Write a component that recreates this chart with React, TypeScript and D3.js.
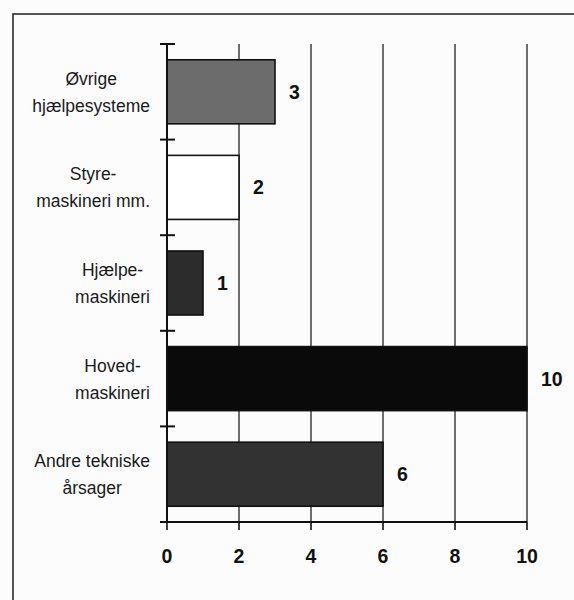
import React from "react";
import * as d3 from "d3";

const categories = [
  "Øvrige hjælpesysteme",
  "Styre- maskineri mm.",
  "Hjælpe- maskineri",
  "Hoved- maskineri",
  "Andre tekniske årsager",
];
const labelLines = [
  ["Øvrige", "hjælpesysteme"],
  ["Styre-", "maskineri mm."],
  ["Hjælpe-", "maskineri"],
  ["Hoved-", "maskineri"],
  ["Andre tekniske", "årsager"],
];
const values = [3, 2, 1, 10, 6];
const barFills = ["#6c6c6c", "#ffffff", "#2c2c2c", "#0a0a0a", "#323232"];
const xTicks = [0, 2, 4, 6, 8, 10];

const font = "'Liberation Sans', Arial, Helvetica, sans-serif";
const labelSize = 17.5;

function measure(text: string): number {
  if (typeof document === "undefined") return text.length * 9;
  const c = document.createElement("canvas").getContext("2d");
  if (!c) return text.length * 9;
  c.font = `${labelSize}px ${font}`;
  return c.measureText(text).width;
}

export default function App() {
  const W = 574;
  const H = 600;
  const x = d3.scaleLinear().domain([0, 10]).range([167, 527]);
  const y = d3
    .scaleBand<string>()
    .domain(categories)
    .range([44, 522])
    .paddingInner(0.33)
    .paddingOuter(0.165);
  const step = y.step();
  const boundaries = d3.range(categories.length + 1).map((i) => 44 + i * step);
  const labelRight = 150;

  return (
    <svg
      width={W}
      height={H}
      style={{ position: "absolute", left: 0, top: 0, background: "#fcfcfc" }}
    >
      {/* frame */}
      <rect x={13} y={14} width={W + 10} height={H + 10} fill="none" stroke="#2a2a2a" strokeWidth={1.6} />

      {/* grid lines */}
      {xTicks.filter((t) => t > 0).map((t) => (
        <line key={"g" + t} x1={x(t)} x2={x(t)} y1={44} y2={522} stroke="#333" strokeWidth={1.4} />
      ))}

      {/* bars */}
      {categories.map((c, i) => (
        <rect
          key={c}
          x={x(0)}
          y={y(c)}
          width={x(values[i]) - x(0)}
          height={y.bandwidth()}
          fill={barFills[i]}
          stroke="#111"
          strokeWidth={1.6}
        />
      ))}

      {/* y axis */}
      <line x1={x(0)} x2={x(0)} y1={44} y2={522} stroke="#111" strokeWidth={2} />
      {boundaries.map((b, i) => (
        <line key={"yt" + i} x1={160} x2={175} y1={b} y2={b} stroke="#111" strokeWidth={2} />
      ))}

      {/* x axis */}
      <line x1={163} x2={x(10)} y1={522} y2={522} stroke="#111" strokeWidth={2} />
      {xTicks.map((t) => (
        <g key={"xt" + t}>
          <line x1={x(t)} x2={x(t)} y1={522} y2={530} stroke="#111" strokeWidth={1.6} />
          <text
            x={x(t)}
            y={563}
            textAnchor="middle"
            fontFamily={font}
            fontWeight="bold"
            fontSize={19.5}
            fill="#111"
          >
            {t}
          </text>
        </g>
      ))}

      {/* value labels */}
      {categories.map((c, i) => (
        <text
          key={"v" + c}
          x={x(values[i]) + 14}
          y={(y(c) as number) + y.bandwidth() / 2 + 7}
          fontFamily={font}
          fontWeight="bold"
          fontSize={19.5}
          fill="#111"
        >
          {values[i]}
        </text>
      ))}

      {/* category labels */}
      {categories.map((c, i) => {
        const cy = (y(c) as number) + y.bandwidth() / 2;
        const wMax = Math.max(...labelLines[i].map(measure));
        const cx = labelRight - wMax / 2;
        return (
          <text key={"c" + c} textAnchor="middle" fontFamily={font} fontSize={labelSize} fill="#1a1a1a">
            <tspan x={cx} y={cy - 7}>{labelLines[i][0]}</tspan>
            <tspan x={cx} y={cy + 20}>{labelLines[i][1]}</tspan>
          </text>
        );
      })}
    </svg>
  );
}
